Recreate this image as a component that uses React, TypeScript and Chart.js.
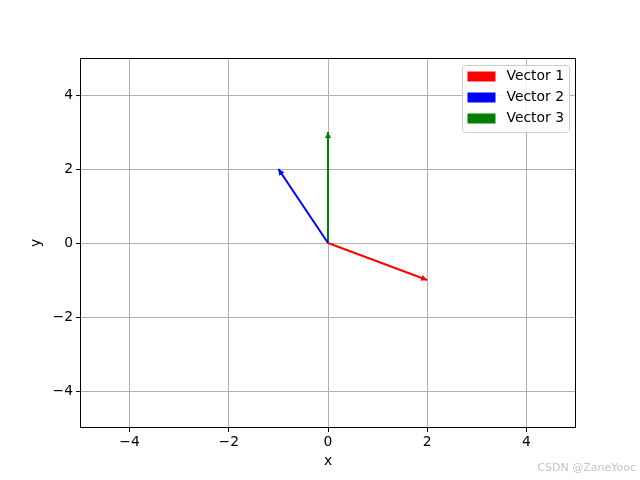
import React, { useEffect, useRef } from "react";
import { Chart, registerables } from "chart.js";

Chart.register(...registerables);

const seriesLabels = ["Vector 1", "Vector 2", "Vector 3"];
const vectorU = [2, -1, 0];
const vectorV = [-1, 2, 3];
const seriesColors = ["#ff0000", "#0000ff", "#008000"];
const xTicks = [-4, -2, 0, 2, 4];
const yTicks = [-4, -2, 0, 2, 4];
const axisMin = -5;
const axisMax = 5;
const xTitle = "x";
const yTitle = "y";
const watermark = "CSDN @ZaneYooc";

const FONT = "'DejaVu Sans', sans-serif";
const fmt = (v: number) => (v < 0 ? "\u2212" + Math.abs(v) : String(v));

const decorPlugin = {
  id: "decor",
  afterDatasetsDraw(chart: any) {
    const ctx = chart.ctx;
    chart.data.datasets.forEach((ds: any, i: number) => {
      const meta = chart.getDatasetMeta(i);
      const p0 = meta.data[0];
      const p1 = meta.data[1];
      if (!p0 || !p1) return;
      const ang = Math.atan2(p1.y - p0.y, p1.x - p0.x);
      const L = 6;
      const W = 3;
      ctx.save();
      ctx.fillStyle = ds.borderColor;
      ctx.beginPath();
      ctx.moveTo(p1.x, p1.y);
      ctx.lineTo(
        p1.x - L * Math.cos(ang) + W * Math.sin(ang),
        p1.y - L * Math.sin(ang) - W * Math.cos(ang)
      );
      ctx.lineTo(
        p1.x - L * Math.cos(ang) - W * Math.sin(ang),
        p1.y - L * Math.sin(ang) + W * Math.cos(ang)
      );
      ctx.closePath();
      ctx.fill();
      ctx.restore();
    });
  },
  afterDraw(chart: any) {
    const ctx = chart.ctx;
    const a = chart.chartArea;
    ctx.save();
    // frame
    ctx.strokeStyle = "#000";
    ctx.lineWidth = 1;
    const l = Math.round(a.left) + 0.5;
    const t = Math.round(a.top) + 0.5;
    const r = Math.round(a.right) - 0.5;
    const b = Math.round(a.bottom) - 0.5;
    ctx.strokeRect(l, t, r - l, b - t);

    // legend
    const bw = 107;
    const bh = 67;
    const bx = Math.round(a.right) - 7 - bw + 0.5;
    const by = Math.round(a.top) + 7 + 0.5;
    const rad = 3;
    ctx.beginPath();
    ctx.moveTo(bx + rad, by);
    ctx.lineTo(bx + bw - rad, by);
    ctx.arcTo(bx + bw, by, bx + bw, by + rad, rad);
    ctx.lineTo(bx + bw, by + bh - rad);
    ctx.arcTo(bx + bw, by + bh, bx + bw - rad, by + bh, rad);
    ctx.lineTo(bx + rad, by + bh);
    ctx.arcTo(bx, by + bh, bx, by + bh - rad, rad);
    ctx.lineTo(bx, by + rad);
    ctx.arcTo(bx, by, bx + rad, by, rad);
    ctx.closePath();
    ctx.fillStyle = "rgba(255,255,255,0.8)";
    ctx.fill();
    ctx.strokeStyle = "#cccccc";
    ctx.stroke();
    ctx.font = `13.9px ${FONT}`;
    ctx.textBaseline = "middle";
    ctx.textAlign = "left";
    chart.data.datasets.forEach((ds: any, i: number) => {
      const cy = by + 11 + i * 21;
      ctx.fillStyle = ds.borderColor;
      ctx.fillRect(bx + 5, cy - 5, 28, 10);
      ctx.fillStyle = "#000";
      ctx.fillText(ds.label, bx + 44, cy);
    });

    // watermark
    ctx.font = `11px ${FONT}`;
    ctx.fillStyle = "#c4c4c4";
    ctx.textAlign = "right";
    ctx.fillText(watermark, 636, 468);
    ctx.restore();
  },
};

export default function App() {
  const ref = useRef<HTMLCanvasElement | null>(null);
  useEffect(() => {
    if (!ref.current) return;
    const datasets = seriesLabels.map((label, i) => ({
      label,
      data: [
        { x: 0, y: 0 },
        { x: vectorU[i], y: vectorV[i] },
      ],
      showLine: true,
      borderColor: seriesColors[i],
      backgroundColor: seriesColors[i],
      borderWidth: 2,
      pointRadius: 0,
      pointHoverRadius: 0,
    }));
    const tickFont = { family: FONT, size: 13.9 };
    const chart = new Chart(ref.current, {
      type: "scatter",
      data: { datasets },
      options: {
        animation: false,
        responsive: false,
        layout: { padding: { left: 28, right: 64, top: 58, bottom: 10 } },
        plugins: { legend: { display: false }, tooltip: { enabled: false } },
        scales: {
          x: {
            type: "linear",
            min: axisMin,
            max: axisMax,
            afterBuildTicks: (axis: any) => {
              axis.ticks = xTicks.map((v) => ({ value: v }));
            },
            afterFit: (axis: any) => {
              axis.height = 42;
            },
            ticks: {
              color: "#000",
              font: tickFont,
              padding: 2,
              maxRotation: 0,
              callback: (v: any) => fmt(Number(v)),
            },
            grid: {
              color: "#b0b0b0",
              lineWidth: 1,
              tickLength: 4,
              tickColor: "#000",
            },
            border: { display: false },
            title: {
              display: true,
              text: xTitle,
              color: "#000",
              font: tickFont,
              padding: 0,
            },
          },
          y: {
            type: "linear",
            min: axisMin,
            max: axisMax,
            afterBuildTicks: (axis: any) => {
              axis.ticks = yTicks.map((v) => ({ value: v }));
            },
            afterFit: (axis: any) => {
              axis.width = 52;
            },
            ticks: {
              color: "#000",
              font: tickFont,
              padding: 3,
              callback: (v: any) => fmt(Number(v)),
            },
            grid: {
              color: "#b0b0b0",
              lineWidth: 1,
              tickLength: 4,
              tickColor: "#000",
            },
            border: { display: false },
            title: {
              display: true,
              text: yTitle,
              color: "#000",
              font: tickFont,
              padding: 0,
            },
          },
        },
      },
      plugins: [decorPlugin],
    } as any);
    return () => chart.destroy();
  }, []);
  return (
    <div style={{ position: "absolute", left: 0, top: 0, width: 640, height: 480, background: "#fff" }}>
      <canvas ref={ref} width={640} height={480} />
    </div>
  );
}
